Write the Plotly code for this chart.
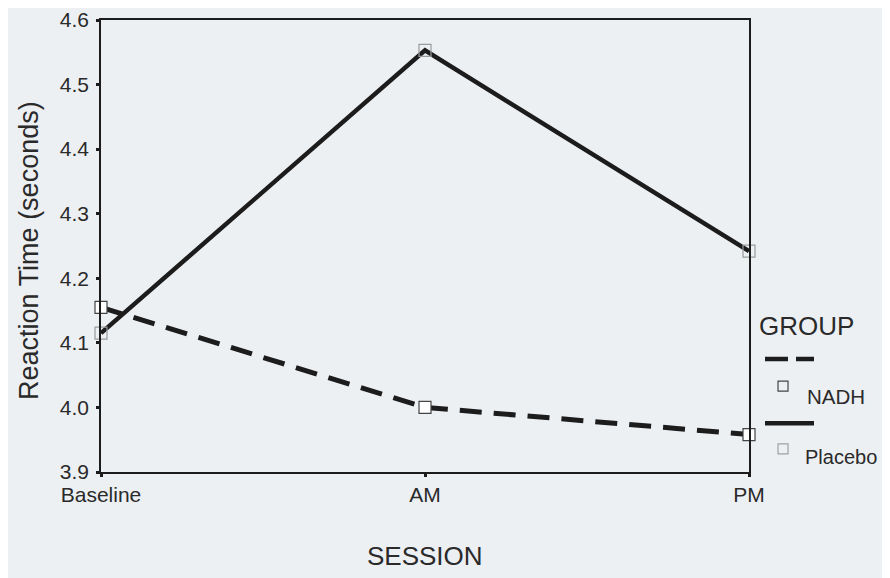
import plotly.graph_objects as go

sessions = ["Baseline", "AM", "PM"]
session_pos = [0, 1, 2]
nadh = [4.155, 4.0, 3.958]
placebo = [4.115, 4.553, 4.242]
y_ticks = [3.9, 4.0, 4.1, 4.2, 4.3, 4.4, 4.5, 4.6]

BG = "#edf0f3"
INK = "#1c1c1c"
TXT = "#2a2a2a"
FONT = "Liberation Sans, Arial, Helvetica, sans-serif"

fig = go.Figure()

fig.add_trace(go.Scatter(
    x=session_pos, y=placebo, mode="lines", name="Placebo",
    line=dict(color=INK, width=4.5), cliponaxis=False, showlegend=False))
fig.add_trace(go.Scatter(
    x=session_pos, y=nadh, mode="lines", name="NADH",
    line=dict(color=INK, width=5, dash="22px,12px"), cliponaxis=False, showlegend=False))
fig.add_trace(go.Scatter(
    x=session_pos, y=placebo, mode="markers", showlegend=False,
    marker=dict(symbol="square-open", size=12, color="#9a9a9a", line=dict(width=1.2)),
    cliponaxis=False))
fig.add_trace(go.Scatter(
    x=session_pos, y=nadh, mode="markers", showlegend=False,
    marker=dict(symbol="square", size=12, color="#ffffff", line=dict(color="#444444", width=1.2)),
    cliponaxis=False))

fig.update_xaxes(
    range=[0, 2], tickvals=session_pos, ticktext=sessions,
    showline=True, linecolor=INK, linewidth=1.5, mirror=True,
    ticks="outside", ticklen=3, tickwidth=3, tickcolor=INK,
    showgrid=False, zeroline=False, ticklabeloverflow="allow",
    tickfont=dict(family=FONT, size=21, color=TXT))
fig.update_yaxes(
    range=[3.9, 4.6], tickvals=y_ticks, ticktext=[f"{v:.1f}" for v in y_ticks],
    showline=True, linecolor=INK, linewidth=1.5, mirror=True,
    ticks="outside", ticklen=3, tickwidth=3, tickcolor=INK,
    showgrid=False, zeroline=False, ticklabelstandoff=3, ticklabeloverflow="allow",
    tickfont=dict(family=FONT, size=21, color=TXT))

ann = [
    dict(text="Reaction Time (seconds)", x=-0.112, y=0.49, textangle=-90,
         font=dict(size=27)),
    dict(text="SESSION", x=0.5, y=-0.186, font=dict(size=26)),
    dict(text="GROUP", x=1.012, y=0.323, xanchor="left", font=dict(size=26)),
    dict(text="NADH", x=1.087, y=0.166, xanchor="left", font=dict(size=20.5)),
    dict(text="Placebo", x=1.084, y=0.033, xanchor="left", font=dict(size=20)),
]
annotations = []
for a in ann:
    base = dict(xref="paper", yref="paper", showarrow=False, yanchor="middle")
    base.setdefault("xanchor", "center")
    base.update(a)
    base["font"] = dict(family=FONT, color=TXT, **a["font"])
    annotations.append(base)

shapes = [
    dict(type="line", xref="paper", yref="paper", x0=1.0247, x1=1.1003, y0=0.25, y1=0.25,
         line=dict(color=INK, width=4.5, dash="23px,8px")),
    dict(type="line", xref="paper", yref="paper", x0=1.0247, x1=1.1003, y0=0.108, y1=0.108,
         line=dict(color=INK, width=4.5)),
    dict(type="rect", xref="paper", yref="paper", xsizemode="pixel", ysizemode="pixel",
         xanchor=1.0525, yanchor=0.190, x0=-5, x1=5, y0=-5, y1=5,
         line=dict(color="#444444", width=1.2), fillcolor="rgba(0,0,0,0)"),
    dict(type="rect", xref="paper", yref="paper", xsizemode="pixel", ysizemode="pixel",
         xanchor=1.0525, yanchor=0.051, x0=-5, x1=5, y0=-5, y1=5,
         line=dict(color="#a0a0a0", width=1.2), fillcolor="rgba(0,0,0,0)"),
]

# The page adds an 8px body margin, so the figure is shrunk by 8px and its
# margins shifted to keep the plot area near the reference position.
fig.update_layout(
    width=882, height=570,
    margin=dict(l=93, r=141, t=12, b=106, autoexpand=False),
    paper_bgcolor=BG, plot_bgcolor=BG,
    showlegend=False,
    annotations=annotations, shapes=shapes,
)

fig.write_html("out.html")
